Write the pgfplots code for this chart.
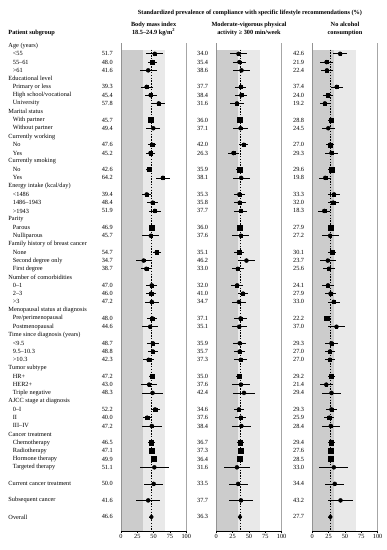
\documentclass[border=0pt]{standalone}
\usepackage{fontspec}
\setmainfont{Liberation Serif}
\usepackage{pgfplots}
\pgfplotsset{compat=1.18}
\usepackage{pgfplotstable}
\newcommand\fs{\fontsize{6.3}{7.5}\selectfont}

% r = row, v = estimate, e = half-width of 95% CI, ms = marker size
\pgfplotstableread{
r v e ms
2 51.7 13 1.1
3 48.0 7 1.8
4 41.6 13 1.1
6 39.3 9 1.5
7 45.4 9 1.5
8 57.8 10 1.3
10 45.7 4 2.4
11 49.4 11 1.3
13 47.6 6 1.9
14 45.2 7 1.8
16 42.6 5 2.1
17 64.2 11 1.3
19 39.4 7 1.6
20 48.4 8 1.6
21 51.9 9 1.5
23 46.9 4 2.4
24 45.7 13 1.1
26 54.7 6 1.9
27 34.7 12 1.1
28 38.7 8 1.5
30 47.0 8 1.6
31 46.0 7 1.7
32 47.2 11 1.2
34 48.0 7.5 1.7
35 44.6 12 1.1
37 48.7 9 1.5
38 48.8 8 1.6
39 42.3 9 1.5
41 47.2 5 2.1
42 43.0 12 1.1
43 48.3 16 0.8
45 52.2 7 1.7
46 40.0 7 1.8
47 47.2 15 0.9
49 46.5 5 2.2
50 47.1 4 2.4
51 49.9 4 2.4
52 51.1 22 0.7
54 50.0 15 0.9
56 41.6 18 0.8
}\tabA

\pgfplotstableread{
r v e ms
2 34.0 12.5 1.1
3 35.4 10 1.3
4 38.6 13 1.1
6 37.7 8.5 1.5
7 38.4 9 1.5
8 31.6 10.5 1.3
10 36.0 4 2.4
11 37.1 11 1.2
13 42.0 7 1.8
14 26.3 9 1.5
16 35.9 5 2.2
17 38.1 13 1.1
19 35.3 8.5 1.5
20 35.8 9 1.5
21 37.7 10 1.4
23 36.0 4 2.4
24 37.6 13 1.1
26 35.1 7.5 1.7
27 46.2 12.5 1.0
28 33.0 9.5 1.4
30 32.0 9 1.5
31 41.0 8 1.6
32 34.7 11 1.2
34 37.1 9.5 1.5
35 35.1 11.5 1.2
37 35.9 10 1.4
38 35.7 9 1.5
39 37.3 9.5 1.4
41 35.0 5 2.1
42 37.6 13.5 1.0
43 42.4 16.5 0.8
45 34.6 7.5 1.7
46 37.6 8.5 1.6
47 38.4 15 0.9
49 36.7 5 2.2
50 37.3 4 2.4
51 36.4 4 2.4
52 31.6 20 0.7
54 33.5 14.5 0.9
56 37.7 19 0.8
}\tabB

\pgfplotstableread{
r v e ms
2 42.6 11 1.2
3 21.9 9.5 1.5
4 22.4 9.5 1.5
6 37.4 9 1.5
7 24.0 8 1.6
8 19.2 8 1.6
10 28.8 5 2.2
11 24.5 10 1.4
13 27.0 5.5 2.0
14 29.3 10 1.4
16 29.6 5 2.2
17 19.8 9 1.5
19 33.3 9.5 1.5
20 32.0 8.5 1.6
21 18.3 9 1.5
23 27.9 4 2.4
24 27.2 13 1.1
26 30.1 6.5 1.8
27 23.7 12 1.1
28 25.6 9 1.5
30 24.1 9 1.5
31 27.9 9 1.5
32 33.0 9.5 1.4
34 22.2 5 2.1
35 37.0 13 1.0
37 29.3 9.5 1.5
38 27.0 7.5 1.7
39 27.0 7.5 1.7
41 29.2 5 2.1
42 21.4 10 1.2
43 29.4 14 0.9
45 29.3 8 1.6
46 25.9 7.5 1.7
47 28.4 14 0.9
49 29.4 5 2.2
50 27.6 4 2.4
51 28.5 4 2.4
52 33.0 22 0.7
54 34.4 14.5 0.9
56 43.2 19 0.8
}\tabC

\pgfplotsset{
  forest/.style={
    scale only axis, width=65.3pt, height=487.7pt,
    xmin=0, xmax=100, ymin=-59.7, ymax=-0.73,
    clip=false,
    axis x line*=bottom, axis y line=none,
    x axis line style={black, line width=0.4pt, -},
    xtick={0,25,50,75,100},
    tick align=outside, major tick length=2.2pt,
    tick style={black, line width=0.4pt},
    ytick=\empty,
    xticklabel style={font=\fs, inner sep=1pt},
    /pgf/number format/assume math mode=true,
  },
  ebar/.style={black, only marks, mark=none, forget plot,
    error bars/.cd, x dir=both, x explicit,
    error bar style={line width=0.7pt, black}, error mark=none},
  sqmark/.style={scatter, only marks, mark=square*, forget plot,
    scatter/use mapped color={draw=black, fill=black},
    visualization depends on={\thisrow{ms} \as \msz},
    scatter/@pre marker code/.append style={/tikz/mark size=\msz}},
  valtxt/.style={only marks, mark=none, forget plot,
    point meta=explicit symbolic, nodes near coords,
    nodes near coords style={anchor=east, font=\fs, inner sep=0pt}},
}

\newcommand\panel[3]{%
  \addplot[fill=gray!40, draw=none, forget plot] coordinates {(0,-1.5) (33.3,-1.5) (33.3,-59.7) (0,-59.7)} -- cycle;
  \addplot[fill=gray!17, draw=none, forget plot] coordinates {(33.3,-1.5) (66.7,-1.5) (66.7,-59.7) (33.3,-59.7)} -- cycle;
  \addplot[gray!85, line width=0.5pt, forget plot] coordinates {(0,-0.73) (0,-59.7)};
  \addplot[gray!70, line width=0.5pt, forget plot] coordinates {(100,-0.73) (100,-59.7)};
  \addplot[black, line width=0.6pt, dash pattern=on 1.4pt off 1.4pt, forget plot] coordinates {(#2,-1.5) (#2,-59.7)};
  \addplot[ebar] table[x=v, y expr=-\thisrow{r}, x error=e] {#1};
  \addplot[sqmark] table[x=v, y expr=-\thisrow{r}] {#1};
  \addplot[black, mark=diamond*, mark size=2.6pt, only marks, forget plot,
    error bars/.cd, x dir=both, x explicit, error bar style={line width=0.7pt, black}, error mark=none]
    coordinates {(#2,-58) +- (#3,0)};
  \addplot[valtxt] table[x expr=-12.2, y expr=-\thisrow{r}, meta=v] {#1};
  \addplot[valtxt] coordinates {(-12.2,-58) [#2]};
}

\begin{document}
\begin{tikzpicture}
\useasboundingbox (0,0) rectangle (387pt,-550pt);

\node[font=\bfseries\fs] at (250pt,-12.7pt) {Standardized prevalence of compliance with specific lifestyle recommendations (\%)};
\node[font=\bfseries\fs, align=center] at (153.6pt,-29pt) {Body mass index\\18.5–24.9 kg/m\textsuperscript{2}};
\node[font=\bfseries\fs, align=center] at (249pt,-29pt) {Moderate-vigorous physical\\activity ≥ 300 min/week};
\node[font=\bfseries\fs, align=center] at (345pt,-29pt) {No alcohol\\consumption};
\node[font=\bfseries\fs, anchor=west, inner sep=0pt] at (8.3pt,-33pt) {Patient subgroup};

\begin{axis}[forest, at={(121pt,-531pt)}, anchor=south west]
  \panel{\tabA}{46.6}{3}
  \tikzset{hd/.style={anchor=west, font=\fs, inner sep=0pt}}
  \node[hd] at (axis cs:-172.6,-1) {Age (years)};
  \node[hd] at (axis cs:-165.9,-2) {<55};
  \node[hd] at (axis cs:-165.9,-3) {55–61};
  \node[hd] at (axis cs:-165.9,-4) {>61};
  \node[hd] at (axis cs:-172.6,-5) {Educational level};
  \node[hd] at (axis cs:-165.9,-6) {Primary or less};
  \node[hd] at (axis cs:-165.9,-7) {High school/vocational};
  \node[hd] at (axis cs:-165.9,-8) {University};
  \node[hd] at (axis cs:-172.6,-9) {Marital status};
  \node[hd] at (axis cs:-165.9,-10) {With partner};
  \node[hd] at (axis cs:-165.9,-11) {Without partner};
  \node[hd] at (axis cs:-172.6,-12) {Currently working};
  \node[hd] at (axis cs:-165.9,-13) {No};
  \node[hd] at (axis cs:-165.9,-14) {Yes};
  \node[hd] at (axis cs:-172.6,-15) {Currently smoking};
  \node[hd] at (axis cs:-165.9,-16) {No};
  \node[hd] at (axis cs:-165.9,-17) {Yes};
  \node[hd] at (axis cs:-172.6,-18) {Energy intake (kcal/day)};
  \node[hd] at (axis cs:-165.9,-19) {<1486};
  \node[hd] at (axis cs:-165.9,-20) {1486–1943};
  \node[hd] at (axis cs:-165.9,-21) {>1943};
  \node[hd] at (axis cs:-172.6,-22) {Parity};
  \node[hd] at (axis cs:-165.9,-23) {Parous};
  \node[hd] at (axis cs:-165.9,-24) {Nulliparous};
  \node[hd] at (axis cs:-172.6,-25) {Family history of breast cancer};
  \node[hd] at (axis cs:-165.9,-26) {None};
  \node[hd] at (axis cs:-165.9,-27) {Second degree only};
  \node[hd] at (axis cs:-165.9,-28) {First degree};
  \node[hd] at (axis cs:-172.6,-29) {Number of comorbidities};
  \node[hd] at (axis cs:-165.9,-30) {0–1};
  \node[hd] at (axis cs:-165.9,-31) {2–3};
  \node[hd] at (axis cs:-165.9,-32) {>3};
  \node[hd] at (axis cs:-172.6,-33) {Menopausal status at diagnosis};
  \node[hd] at (axis cs:-165.9,-34) {Pre/perimenopausal};
  \node[hd] at (axis cs:-165.9,-35) {Postmenopausal};
  \node[hd] at (axis cs:-172.6,-36) {Time since diagnosis (years)};
  \node[hd] at (axis cs:-165.9,-37) {<9.5};
  \node[hd] at (axis cs:-165.9,-38) {9.5–10.3};
  \node[hd] at (axis cs:-165.9,-39) {>10.3};
  \node[hd] at (axis cs:-172.6,-40) {Tumor subtype};
  \node[hd] at (axis cs:-165.9,-41) {HR+};
  \node[hd] at (axis cs:-165.9,-42) {HER2+};
  \node[hd] at (axis cs:-165.9,-43) {Triple negative};
  \node[hd] at (axis cs:-172.6,-44) {AJCC stage at diagnosis};
  \node[hd] at (axis cs:-165.9,-45) {0–I};
  \node[hd] at (axis cs:-165.9,-46) {II};
  \node[hd] at (axis cs:-165.9,-47) {III–IV};
  \node[hd] at (axis cs:-172.6,-48) {Cancer treatment};
  \node[hd] at (axis cs:-165.9,-49) {Chemotherapy};
  \node[hd] at (axis cs:-165.9,-50) {Radiotherapy};
  \node[hd] at (axis cs:-165.9,-51) {Hormone therapy};
  \node[hd] at (axis cs:-165.9,-52) {Targeted therapy};
  \node[hd] at (axis cs:-172.6,-54) {Current cancer treatment};
  \node[hd] at (axis cs:-172.6,-56) {Subsequent cancer};
  \node[hd] at (axis cs:-172.6,-58) {Overall};
\end{axis}

\begin{axis}[forest, at={(216.3pt,-531pt)}, anchor=south west]
  \panel{\tabB}{36.3}{3}
\end{axis}

\begin{axis}[forest, at={(312.3pt,-531pt)}, anchor=south west]
  \panel{\tabC}{27.7}{3}
\end{axis}
\end{tikzpicture}
\end{document}
